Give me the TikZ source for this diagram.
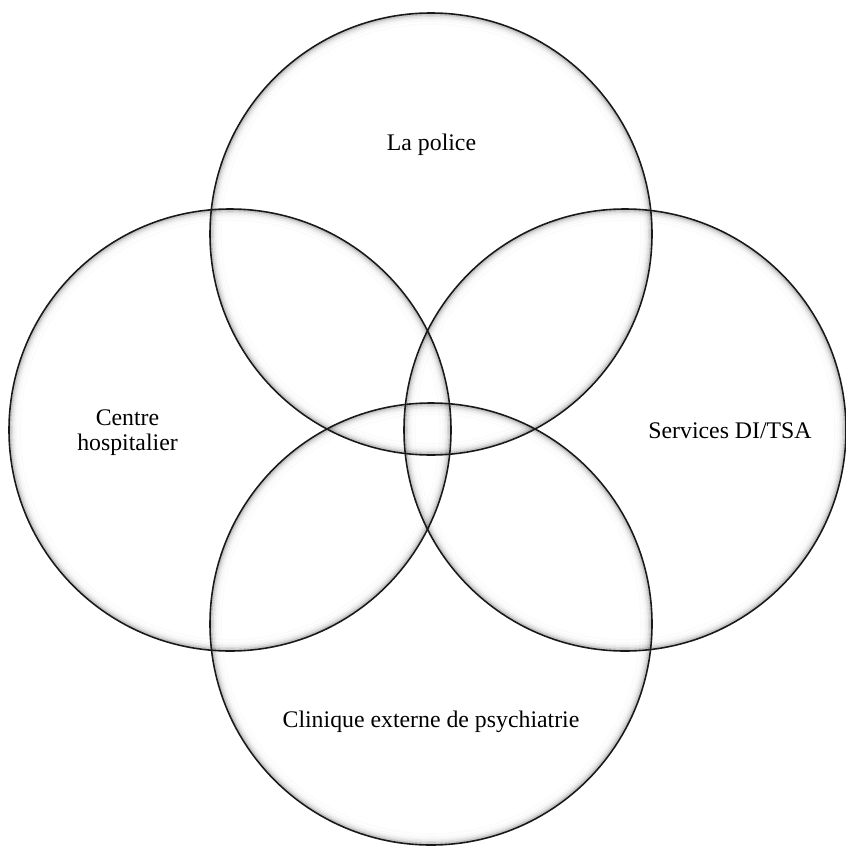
\documentclass[tikz,border=0pt]{standalone}
\usepackage{fontspec}
\setmainfont{Liberation Serif}
\begin{document}
\begin{tikzpicture}[x=1pt,y=-1pt,
  ring/.style={draw=black!90,line width=1.6pt},
  lbl/.style={font=\fontsize{23.8}{25}\selectfont,inner sep=0pt,align=center}]
\useasboundingbox (0,0) rectangle (846,846);
\fill[white] (0,0) rectangle (846,846);
\coordinate (ct) at (431,234);
\coordinate (cl) at (230,430);
\coordinate (cr) at (625,430);
\coordinate (cb) at (431,624);
\def\R{221}
% soft inner shadows
\foreach \c in {ct,cl,cr,cb}{
  \foreach \k/\o in {1.5/0.22,3/0.12,4.5/0.07,6/0.04,8/0.025,11/0.015}{
    \draw[black,opacity=\o,line width=1.6pt] (\c) circle[radius=\R-\k];
  }
}
\foreach \c in {ct,cl,cr,cb}{
  \draw[ring] (\c) circle[radius=\R];
}
\node[lbl,anchor=base] (police) at (431.5,150) {La police};
\node[lbl,anchor=base] (centre) at (127.5,450) {Centre\\hospitalier};
\node[lbl,anchor=base] (services) at (730,438) {Services DI/TSA};
\node[lbl,anchor=base] (clinique) at (431,727) {Clinique externe de psychiatrie};
\end{tikzpicture}
\end{document}
